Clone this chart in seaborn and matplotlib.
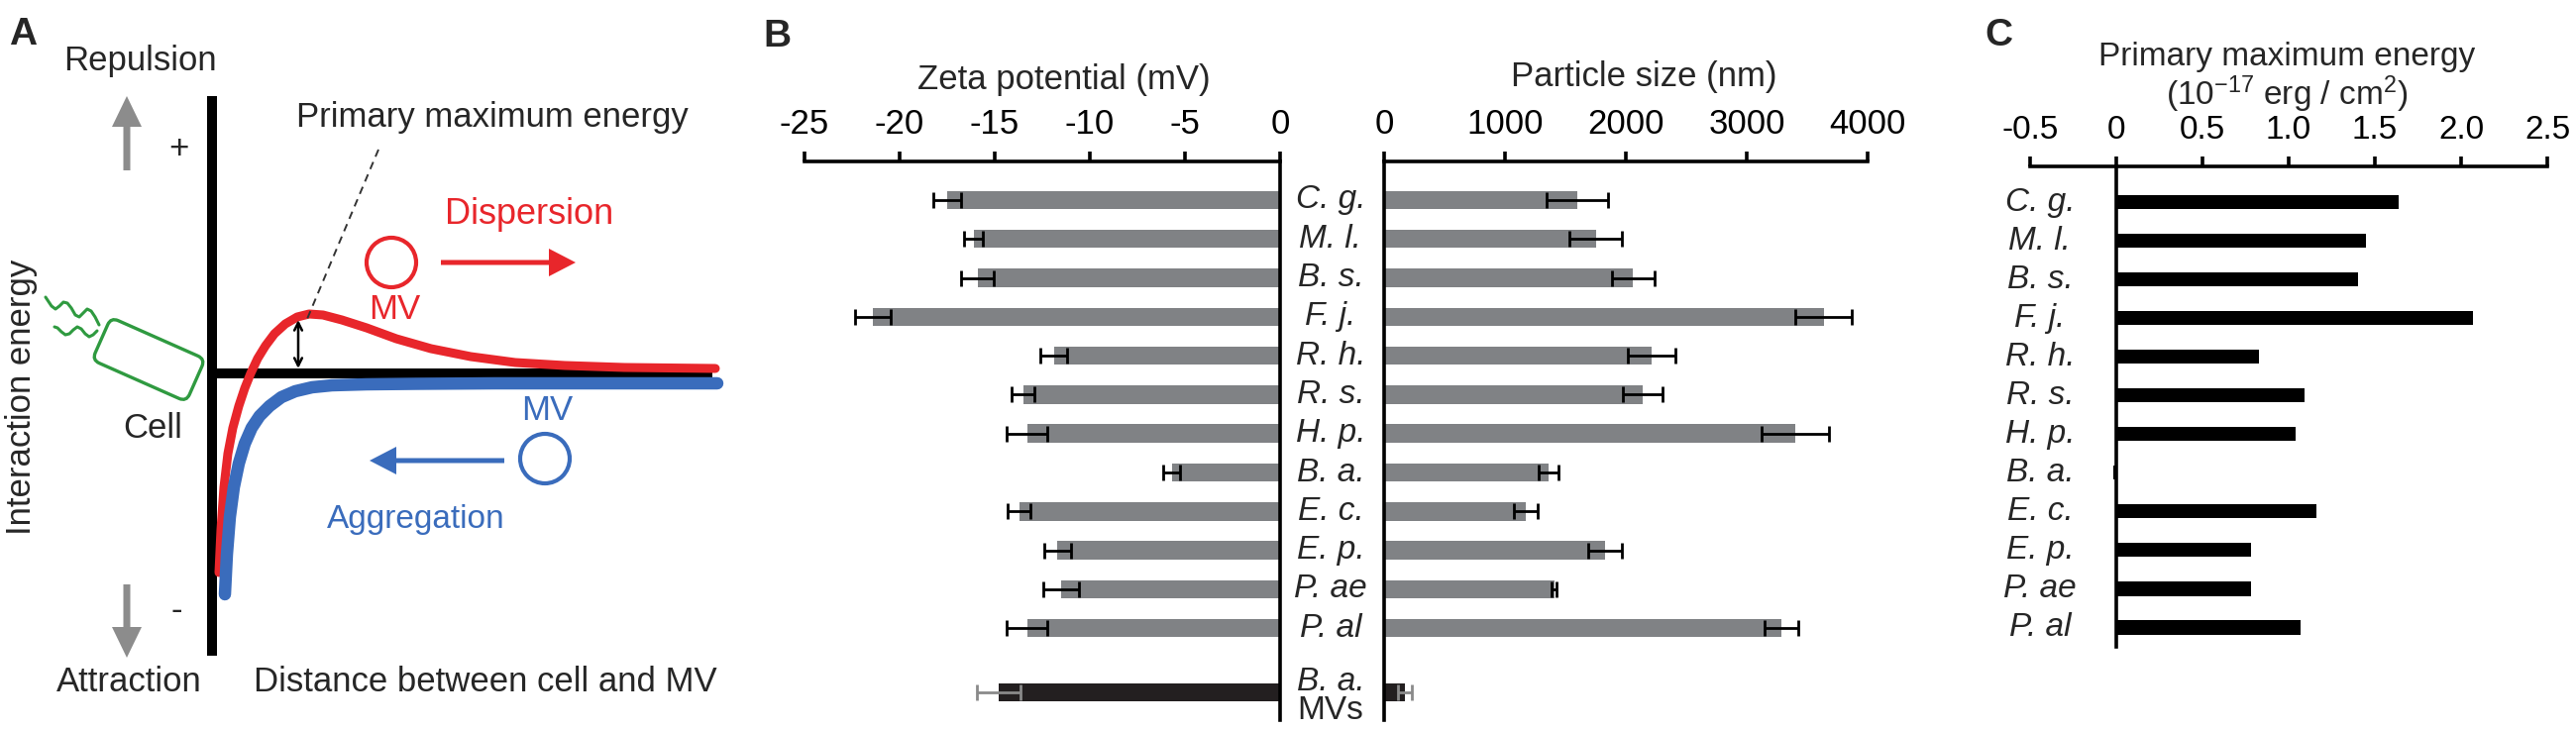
import numpy as np
import pandas as pd
import matplotlib
matplotlib.use("Agg")
import matplotlib.pyplot as plt
import seaborn as sns
from matplotlib.patches import FancyBboxPatch, Circle
from matplotlib.transforms import Affine2D, blended_transform_factory

# ---------------- data ----------------
species = ["C. g.", "M. l.", "B. s.", "F. j.", "R. h.", "R. s.",
           "H. p.", "B. a.", "E. c.", "E. p.", "P. ae", "P. al"]
zeta = [-17.5, -16.1, -15.9, -21.4, -11.9, -13.5, -13.3, -5.7, -13.7, -11.7, -11.5, -13.3]
zeta_err = [0.75, 0.5, 0.85, 0.95, 0.7, 0.6, 1.05, 0.45, 0.6, 0.7, 0.95, 1.05]
size_nm = [1597, 1750, 2060, 3637, 2212, 2137, 3404, 1363, 1172, 1830, 1409, 3287]
size_err = [255, 217, 178, 235, 198, 163, 280, 83, 102, 140, 20, 141]
mv_label = "B. a."
mv_zeta = -14.8
mv_zeta_err = 1.15
mv_size = 172
mv_size_err = 58
energy = [1.64, 1.45, 1.40, 2.07, 0.83, 1.09, 1.04, -0.02, 1.16, 0.78, 0.78, 1.07]

zeta_ticks = [-25, -20, -15, -10, -5, 0]
size_ticks = [0, 1000, 2000, 3000, 4000]
energy_ticks = [-0.5, 0, 0.5, 1.0, 1.5, 2.0, 2.5]
energy_ticklabels = ["-0.5", "0", "0.5", "1.0", "1.5", "2.0", "2.5"]

# schematic interaction-energy curves of panel A (pixel space)
red_x = [221, 223, 226, 230, 235, 241, 247, 253, 260, 268, 277, 288, 300, 312, 326,
         345, 370, 400, 435, 475, 520, 570, 630, 722]
red_y = [578, 535, 492, 458, 432, 410, 392, 377, 362, 349, 337, 327, 320, 317, 318,
         323, 331, 342, 352, 360, 366, 369, 371, 372]
blue_x = [227, 229, 232, 236, 241, 247, 254, 262, 272, 284, 298, 315, 335, 370, 420, 500, 600, 724]
blue_y = [600, 560, 522, 492, 468, 448, 432, 420, 410, 401, 395, 391, 389, 388, 387.5, 387, 387, 387]
flag1_x = [100, 96, 92, 88, 84, 80, 76, 72, 68, 64, 60, 56, 52, 48, 46]
flag1_y = [328, 320, 314, 312, 316, 320, 318, 311, 306, 305, 309, 312, 309, 303, 300]
flag2_x = [98, 94, 90, 86, 82, 78, 74, 70, 66, 62, 58, 55]
flag2_y = [334, 338, 340, 337, 332, 330, 333, 337, 338, 335, 331, 330]

RED = "#e8262b"
BLUE = "#3a6cbc"
GREEN = "#2f9a40"
GRAY_BAR = "#808285"
GRAY_ARW = "#8c8c8c"

sns.set_theme(style="white")
plt.rcParams["font.family"] = ["Liberation Sans", "DejaVu Sans"]
plt.rcParams["mathtext.fontset"] = "custom"
plt.rcParams["mathtext.rm"] = "Liberation Sans"
plt.rcParams["mathtext.it"] = "Liberation Sans:italic"

W, H = 2600, 737
fig = plt.figure(figsize=(26, 7.37), dpi=100)


def rect(x0, x1, y0, y1):
    return [x0 / W, 1 - y1 / H, (x1 - x0) / W, (y1 - y0) / H]


# ---------------- overlay (panel A + letters) ----------------
ov = fig.add_axes([0, 0, 1, 1])
ov.set_xlim(0, W)
ov.set_ylim(H, 0)
ov.axis("off")

ov.plot([214, 214], [97, 662], color="black", lw=7.2, solid_capstyle="butt", zorder=2)
ov.plot([214, 719], [377, 377], color="black", lw=7.2, solid_capstyle="butt", zorder=2)
ov.plot(red_x, red_y, color=RED, lw=6.5, solid_capstyle="round", solid_joinstyle="round", zorder=3)
ov.plot(blue_x, blue_y, color=BLUE, lw=9, solid_capstyle="round", solid_joinstyle="round", zorder=4)

ov.plot([382, 310], [151, 322], color="#333333", lw=1.4, ls=(0, (4, 3)), zorder=5)
ov.annotate("", xy=(301, 323), xytext=(301, 372),
            arrowprops=dict(arrowstyle="<->", lw=1.8, color="black", shrinkA=0, shrinkB=0,
                            mutation_scale=14), zorder=6)

ov.arrow(128, 172, 0, -75, width=7, head_width=30, head_length=31,
         length_includes_head=True, color=GRAY_ARW, lw=0)
ov.arrow(128, 590, 0, 74, width=7, head_width=30, head_length=31,
         length_includes_head=True, color=GRAY_ARW, lw=0)

ov.add_patch(Circle((395, 265), 25, fill=False, ec=RED, lw=3))
ov.arrow(445, 265, 136, 0, width=5, head_width=28, head_length=27,
         length_includes_head=True, color=RED, lw=0)
ov.add_patch(Circle((550, 463), 25, fill=False, ec=BLUE, lw=3))
ov.arrow(509, 465, -136, 0, width=5, head_width=28, head_length=27,
         length_includes_head=True, color=BLUE, lw=0)

cell = FancyBboxPatch((-52, -23.5), 104, 47, boxstyle="round,pad=0,rounding_size=8",
                      fill=False, ec=GREEN, lw=2.4,
                      transform=Affine2D().rotate_deg(23.9).translate(150, 363) + ov.transData)
ov.add_patch(cell)
ov.plot(flag1_x, flag1_y, color=GREEN, lw=2.2, solid_joinstyle="round")
ov.plot(flag2_x, flag2_y, color=GREEN, lw=2.2, solid_joinstyle="round")

fs = 25
ov.text(141, 61, "Repulsion", ha="center", va="center", fontsize=fs)
ov.text(130, 689, "Attraction", ha="center", va="center", fontsize=fs)
ov.text(490, 689, "Distance between cell and MV", ha="center", va="center", fontsize=fs)
ov.text(497, 118, "Primary maximum energy", ha="center", va="center", fontsize=fs)
ov.text(534, 216, "Dispersion", ha="center", va="center", fontsize=26, color=RED)
ov.text(398, 312, "MV", ha="center", va="center", fontsize=fs, color=RED)
ov.text(552, 414, "MV", ha="center", va="center", fontsize=fs, color=BLUE)
ov.text(420, 524, "Aggregation", ha="center", va="center", fontsize=24, color=BLUE)
ov.text(154, 432, "Cell", ha="center", va="center", fontsize=fs)
ov.text(22, 401, "Interaction energy", ha="center", va="center", fontsize=fs, rotation=90)
ov.text(180, 150, "+", ha="center", va="center", fontsize=fs)
ov.text(178, 617, "-", ha="center", va="center", fontsize=fs)

for letter, (lx, ly) in zip(["A", "B", "C"], [(23, 35), (784, 37), (2017, 36)]):
    ov.text(lx, ly, letter, ha="center", va="center", fontsize=28, fontweight="bold")

# ---------------- panel B ----------------
pos_b = list(range(len(species))) + [12.65]
df_b = pd.DataFrame({
    "pos": pos_b,
    "zeta": zeta + [mv_zeta],
    "size": size_nm + [mv_size],
    "group": ["cell"] * len(species) + ["MV"],
})
pal = {"cell": GRAY_BAR, "MV": "#231f20"}
SP_LW = 2.6
ylim_b = (13.36, -0.99)

axz = fig.add_axes(rect(812, 1292, 163, 727))
sns.barplot(data=df_b, x="zeta", y="pos", hue="group", palette=pal, orient="h",
            native_scale=True, width=0.47, legend=False, errorbar=None,
            saturation=1, linewidth=0, ax=axz)
axz.errorbar(zeta, list(range(len(species))), xerr=zeta_err, fmt="none", ecolor="black",
             elinewidth=2, capsize=5.5, capthick=2, zorder=5)
axz.errorbar([mv_zeta], [12.65], xerr=[mv_zeta_err], fmt="none", ecolor="#8a8a8a",
             elinewidth=2, capsize=5.5, capthick=2, zorder=5)
axz.set_xlim(-25, 0)
axz.set_ylim(*ylim_b)

axp = fig.add_axes(rect(1397, 1885, 163, 727))
sns.barplot(data=df_b, x="size", y="pos", hue="group", palette=pal, orient="h",
            native_scale=True, width=0.47, legend=False, errorbar=None,
            saturation=1, linewidth=0, ax=axp)
axp.errorbar(size_nm, list(range(len(species))), xerr=size_err, fmt="none", ecolor="black",
             elinewidth=2, capsize=5.5, capthick=2, zorder=5)
axp.errorbar([mv_size], [12.65], xerr=[mv_size_err], fmt="none", ecolor="#8a8a8a",
             elinewidth=2, capsize=5.5, capthick=2, zorder=5)
axp.set_xlim(0, 4000)
axp.set_ylim(*ylim_b)

for ax, ticks, vis in [(axz, zeta_ticks, ("top", "right")), (axp, size_ticks, ("top", "left"))]:
    ax.set_facecolor("none")
    for s in ["top", "bottom", "left", "right"]:
        ax.spines[s].set_visible(s in vis)
        ax.spines[s].set_linewidth(SP_LW)
        ax.spines[s].set_color("black")
    ax.xaxis.tick_top()
    ax.set_xticks(ticks)
    ax.set_xticklabels([str(t) for t in ticks])
    ax.tick_params(axis="x", top=True, bottom=False, direction="out", length=7,
                   width=SP_LW, pad=8, labelsize=25, colors="black")
    ax.set_yticks([])
    ax.set_xlabel("")
    ax.set_ylabel("")

axz.text(0.546, 1.147, "Zeta potential (mV)", transform=axz.transAxes,
         ha="center", va="center", fontsize=25)
axp.text(0.537, 1.152, "Particle size (nm)", transform=axp.transAxes,
         ha="center", va="center", fontsize=25)

tr = blended_transform_factory(axz.transAxes, axz.transData)
for i, s in enumerate(species):
    axz.text(1.106, i, s, transform=tr, ha="center", va="center", fontsize=24,
             style="italic", clip_on=False)
axz.text(1.106, 12.65 - 0.28, mv_label, transform=tr, ha="center", va="center",
         fontsize=24, style="italic", clip_on=False)
axz.text(1.106, 12.65 + 0.46, "MVs", transform=tr, ha="center", va="center",
         fontsize=24, clip_on=False)

# ---------------- panel C ----------------
df_c = pd.DataFrame({"pos": list(range(len(species))), "energy": energy})
axc = fig.add_axes(rect(2049, 2571, 168, 653))
sns.barplot(data=df_c, x="energy", y="pos", orient="h", native_scale=True, width=0.38,
            color="black", errorbar=None, saturation=1, linewidth=0, ax=axc)
axc.set_xlim(-0.5, 2.5)
axc.set_ylim(11.51, -0.923)
axc.set_facecolor("none")
for s in ["top", "bottom", "left", "right"]:
    axc.spines[s].set_visible(s in ("top", "left"))
    axc.spines[s].set_linewidth(SP_LW)
    axc.spines[s].set_color("black")
axc.spines["left"].set_position(("data", 0))
axc.xaxis.tick_top()
axc.set_xticks(energy_ticks)
axc.set_xticklabels(energy_ticklabels)
axc.tick_params(axis="x", top=True, bottom=False, direction="out", length=7,
                width=SP_LW, pad=8, labelsize=24, colors="black")
axc.set_yticks([])
axc.set_xlabel("")
axc.set_ylabel("")
for i, s in enumerate(species):
    axc.text(-0.443, i, s, ha="center", va="center", fontsize=24, style="italic")
axc.text(0.496, 1.227, "Primary maximum energy", transform=axc.transAxes,
         ha="center", va="center", fontsize=24)
axc.text(0.496, 1.150, r"(10$^{\mathregular{-17}}$ erg / cm$^{\mathregular{2}}$)",
         transform=axc.transAxes, ha="center", va="center", fontsize=24)

fig.savefig("out.png", dpi=100)
